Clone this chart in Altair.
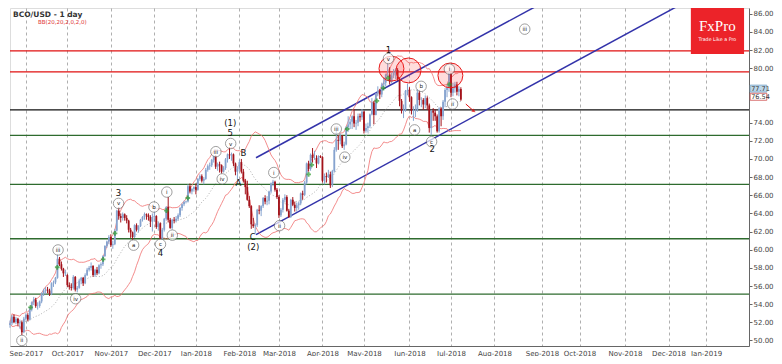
import altair as alt
import pandas as pd

# ---------------- OHLC data (open, high, low, close) per month ----------------
aug17 = [(51.7,52.2,51.4,51.9),(51.9,52.8,51.7,52.6),(52.6,52.9,51.9,52.0),(52.0,52.6,51.8,52.4),
         (52.4,52.5,51.6,51.9),(51.9,52.3,51.3,52.0),(52.0,52.2,50.6,50.9),(50.9,52.6,50.8,52.4)]
sep17 = [(52.4,53.0,52.2,52.8),(52.8,53.0,52.1,52.3),(52.3,53.7,52.2,53.4),(53.4,54.3,53.2,54.2),
         (54.2,54.8,53.9,54.5),(54.5,54.7,53.6,53.8),(53.8,54.2,53.4,53.8),(53.8,54.4,53.6,54.3),
         (54.3,55.3,54.1,55.2),(55.2,55.7,54.9,55.5),(55.5,55.9,55.1,55.6),(55.6,55.9,55.2,55.5),
         (55.5,55.7,54.9,55.1),(55.1,56.4,55.0,56.3),(56.3,56.6,55.9,56.4),(56.4,57.0,56.2,56.9),
         (56.9,59.5,56.8,59.0),(59.0,59.2,58.2,58.4),(58.4,58.7,57.7,57.9),(57.9,58.0,57.0,57.4),
         (57.4,57.8,57.1,57.5)]
oct17 = [(57.2,57.3,55.9,56.1),(56.1,56.4,55.6,55.9),(55.9,56.3,55.5,55.8),(55.8,57.2,55.6,57.0),
         (57.0,57.1,55.4,55.6),(55.6,56.0,55.3,55.8),(55.8,56.8,55.7,56.6),(56.6,57.0,56.2,56.9),
         (56.9,57.0,56.0,56.3),(56.3,57.4,56.2,57.2),(57.2,58.0,57.1,57.8),(57.8,58.2,57.6,58.0),
         (58.0,58.6,57.7,58.2),(58.2,58.3,57.0,57.2),(57.2,57.9,57.0,57.8),(57.8,58.1,57.2,57.4),
         (57.4,58.4,57.3,58.3),(58.3,58.6,57.9,58.4),(58.4,59.4,58.2,59.3),(59.3,60.5,59.2,60.4),
         (60.4,61.0,60.2,60.9),(60.9,61.6,60.6,61.4)]
nov17 = [(61.4,61.7,60.3,60.5),(60.5,61.0,60.1,60.6),(60.6,62.3,60.5,62.1),(62.1,64.4,62.0,64.3),
         (64.3,64.7,63.3,63.7),(63.7,64.0,63.0,63.5),(63.5,64.1,63.2,63.9),(63.9,64.0,63.2,63.5),
         (63.5,63.8,62.9,63.2),(63.2,63.3,61.9,62.2),(62.2,62.4,61.3,61.9),(61.9,62.0,61.1,61.4),
         (61.4,62.8,61.3,62.7),(62.7,62.9,62.0,62.2),(62.2,62.7,61.9,62.6),(62.6,63.4,62.5,63.3),
         (63.3,63.7,63.1,63.6),(63.6,64.1,63.3,63.9),(63.9,64.0,63.3,63.8),(63.8,64.0,63.2,63.6),
         (63.6,63.8,62.5,63.1),(63.1,64.0,62.0,63.6)]
dec17 = [(63.6,64.3,63.1,63.7),(63.7,63.8,62.3,62.5),(62.5,63.1,62.1,62.9),(62.9,63.0,61.1,61.2),
         (61.2,62.4,61.1,62.2),(62.2,63.5,62.0,63.4),(63.4,64.8,63.2,64.7),(64.7,65.8,63.0,63.3),
         (63.3,63.5,62.3,62.4),(62.4,63.4,62.2,63.3),(63.3,63.6,62.9,63.2),(63.2,63.7,63.0,63.4),
         (63.4,64.0,63.2,63.8),(63.8,64.7,63.6,64.6),(64.6,65.1,64.3,65.0),(65.0,65.4,64.8,65.25),
         (65.25,65.4,65.1,65.3),(65.3,67.2,65.2,67.0),(67.0,67.3,66.2,66.4),(66.4,66.8,66.1,66.7),
         (66.7,67.0,66.4,66.9)]
jan18 = [(66.9,67.3,66.1,66.6),(66.6,67.9,66.5,67.8),(67.8,68.3,67.6,68.1),(68.1,68.3,67.4,67.6),
         (67.6,68.0,67.2,67.8),(67.8,69.0,67.7,68.8),(68.8,69.4,68.6,69.2),(69.2,69.6,68.8,69.3),
         (69.3,70.0,69.1,69.9),(69.9,70.4,69.6,70.3),(70.3,70.4,68.9,69.15),(69.15,69.6,68.7,69.4),
         (69.4,69.7,68.5,69.3),(69.3,69.4,68.4,68.6),(68.6,69.2,68.5,69.0),(69.0,70.1,68.8,69.95),
         (69.95,70.6,69.6,70.5),(70.5,71.3,70.0,70.4),(70.4,70.7,69.8,70.5),(70.5,70.6,69.2,69.5),
         (69.5,69.6,68.2,68.6),(68.6,69.2,67.6,68.9)]
feb18 = [(68.9,69.9,68.7,69.65),(69.65,70.0,68.4,68.6),(68.6,68.9,67.4,67.6),(67.6,67.8,66.1,66.9),
         (66.9,67.6,65.4,65.5),(65.5,65.9,64.6,64.8),(64.8,64.9,62.3,62.8),(62.8,63.5,62.4,62.6),
         (62.6,62.9,61.8,62.7),(62.7,64.5,62.5,64.4),(64.4,64.9,63.9,64.3),(64.3,64.9,63.7,64.8),
         (64.8,65.8,64.6,65.7),(65.7,66.0,65.0,65.3),(65.3,65.9,64.9,65.4),(65.4,66.5,65.0,66.4),
         (66.4,67.4,66.2,67.3),(67.3,67.7,67.0,67.5),(67.5,67.6,66.4,66.6),(66.6,66.8,65.6,65.8)]
mar18 = [(65.8,66.0,63.5,63.8),(63.8,64.6,63.6,64.4),(64.4,65.7,64.1,65.5),(65.5,66.1,65.2,65.8),
         (65.8,66.0,64.2,64.3),(64.3,64.5,63.5,63.6),(63.6,65.6,63.5,65.5),(65.5,65.8,64.8,64.95),
         (64.95,65.3,64.2,64.6),(64.6,65.2,64.2,64.9),(64.9,65.3,64.4,65.1),(65.1,66.3,64.9,66.2),
         (66.2,66.5,65.5,66.05),(66.05,67.6,65.9,67.4),(67.4,69.6,67.2,69.5),(69.5,69.8,68.6,68.9),
         (68.9,70.6,68.7,70.45),(70.45,71.2,69.6,70.1),(70.1,70.9,69.9,70.1),(70.1,70.4,69.0,69.5),
         (69.5,70.4,69.4,70.3),(70.3,70.4,70.1,70.2)]
apr18 = [(70.2,70.3,67.4,67.6),(67.6,68.4,67.2,68.1),(68.1,68.5,67.4,68.0),(68.0,68.8,67.9,68.3),
         (68.3,68.6,66.8,67.1),(67.1,68.8,66.9,68.65),(68.65,71.3,68.5,71.0),(71.0,73.1,70.8,72.1),
         (72.1,72.6,71.0,72.0),(72.0,72.8,71.6,72.6),(72.6,72.6,71.2,71.4),(71.4,71.9,71.0,71.6),
         (71.6,73.6,71.5,73.5),(73.5,74.7,73.0,73.8),(73.8,74.4,73.3,74.1),(74.1,74.8,73.3,74.7),
         (74.7,75.5,73.5,73.9),(73.9,74.3,73.2,74.0),(74.0,75.0,73.6,74.7),(74.7,75.0,74.1,74.6),
         (74.6,75.5,74.3,75.2)]
may18 = [(75.2,75.3,72.8,73.1),(73.1,73.9,72.9,73.4),(73.4,74.0,72.9,73.6),(73.6,75.0,73.4,74.9),
         (74.9,76.7,74.8,76.2),(76.2,76.4,73.8,74.85),(74.85,77.3,74.8,77.2),(77.2,78.0,76.9,77.5),
         (77.5,77.7,76.6,77.1),(77.1,78.4,76.8,78.2),(78.2,79.0,77.8,78.4),(78.4,79.4,78.0,79.3),
         (79.3,80.5,79.0,79.3),(79.3,80.1,78.2,78.5),(78.5,79.5,78.3,79.2),(79.2,79.9,78.9,79.6),
         (79.6,80.0,78.8,79.8),(79.8,80.0,78.6,78.8),(78.8,79.0,75.8,76.4),(76.4,76.6,75.0,75.3),
         (75.3,76.0,74.5,75.4),(75.4,77.6,75.2,77.5),(77.5,78.3,77.0,77.6)]
jun18 = [(77.6,77.9,76.3,76.8),(76.8,76.9,74.9,75.3),(75.3,75.8,74.2,75.4),(75.4,76.0,74.6,75.4),
         (75.4,77.7,75.2,77.3),(77.3,77.6,75.9,76.5),(76.5,76.8,75.7,76.5),(76.5,76.7,75.4,76.0),
         (76.0,77.0,75.6,76.7),(76.7,76.9,75.4,75.9),(75.9,76.1,72.9,73.4),(73.4,75.4,72.6,75.3),
         (75.3,75.6,74.2,75.1),(75.1,75.5,74.2,74.7),(74.7,74.9,72.9,73.05),(73.05,75.7,72.9,75.55),
         (75.55,75.7,73.6,74.7),(74.7,76.5,74.3,76.3),(76.3,77.8,75.7,77.6),(77.6,78.2,76.8,77.85),
         (77.85,79.7,77.4,79.4)]
jul18 = [(79.4,79.5,76.8,77.3),(77.3,78.4,76.9,77.8),(77.8,78.5,77.3,78.2),(78.2,78.5,77.0,77.4),
         (77.4,78.0,76.9,77.7),(77.7,77.9,76.4,76.54)]

# ---------------- axis ticks ----------------
month_idx = [8, 29, 51, 73, 94, 116, 136, 158, 179, 202, 223, 245, 269, 288, 311, 333, 352]
month_lab = ["Sep-2017", "Oct-2017", "Nov-2017", "Dec-2017", "Jan-2018", "Feb-2018", "Mar-2018",
             "Apr-2018", "May-2018", "Jun-2018", "Jul-2018", "Aug-2018", "Sep-2018", "Oct-2018",
             "Nov-2018", "Dec-2018", "Jan-2019"]
price_ticks = [50, 52, 54, 56, 58, 60, 62, 64, 66, 68, 70, 72, 74, 80, 82, 84, 86]

# ---------------- annotations ----------------
red_levels = [81.9, 79.6]
black_levels = [75.4]
green_levels = [72.6, 67.2, 61.2, 55.1]

chan_id = ["upper", "upper", "lower", "lower"]
chan_i = [124.4, 400.0, 124.4, 400.0]
chan_p = [70.13, 102.6, 61.66, 94.2]

hl_i = [192.9, 201.5, 222.7]
hl_p = [79.95, 79.75, 79.2]

plus_i = [10.4, 23.9, 47.1, 53.1, 79.1, 89.9, 151.0, 152.6, 170.5, 185.5, 188.8, 191.2, 222.2]
plus_p = [53.65, 58.06, 58.94, 61.8, 64.3, 65.7, 68.3, 69.35, 73.3, 76.4, 77.8, 78.9, 78.2]

circ_txt = ["ii", "iii", "iv", "v", "a", "b", "c", "i", "ii", "iii", "iv", "v", "i", "ii", "iii",
            "iv", "v", "a", "b", "c", "i", "ii", "iii"]
circ_i = [6.0, 24.3, 33.2, 54.9, 62.5, 72.8, 76.1, 79.3, 82.1, 104.1, 107.3, 111.6, 133.4, 136.3,
          165.0, 169.3, 191.4, 204.6, 207.9, 213.2, 222.2, 223.8, 260.3]
circ_p = [50.0, 59.97, 54.6, 65.1, 60.5, 64.7, 60.6, 66.35, 61.6, 70.8, 67.8, 71.7, 68.5, 62.65,
          73.3, 70.2, 81.06, 73.2, 78.0, 71.9, 79.9, 76.05, 84.3]

wave_txt = ["3", "4", "(1)", "5", "A", "B", "C", "(2)", "1", "2"]
wave_i = [54.9, 76.1, 111.4, 111.4, 115.5, 118.0, 122.8, 123.0, 191.4, 213.5]
wave_p = [66.25, 59.65, 74.0, 72.85, 67.4, 70.6, 61.45, 60.35, 82.0, 71.05]

arrow_i = [230.5, 234.4]
arrow_p = [76.05, 75.3]

box_txt = ["77.71", "76.54"]
box_p = [77.75, 76.85]

# ---------------- build frames ----------------
rows = []
k = 0
for month in [aug17, sep17, oct17, nov17, dec17, jan18, feb18, mar18, apr18, may18, jun18, jul18]:
    for o, h, l, c in month:
        rows.append({"i": k, "o": o, "h": h, "l": l, "c": c, "dir": "up" if c >= o else "down"})
        k += 1
bars = pd.DataFrame(rows)

XMAX = 373.7
X = alt.Scale(domain=[0, XMAX], nice=False, zero=False)
Y = alt.Scale(domain=[49.39, 86.63], nice=False, zero=False)

lab_expr = "[" + ",".join("'%s'" % s for s in month_lab) + "][indexof([" + \
    ",".join(str(v) for v in month_idx) + "], datum.value)]"

xaxis = alt.Axis(values=month_idx, labelExpr=lab_expr, grid=True, gridDash=[3, 3],
                 gridColor="#9a9a9a", gridWidth=0.8, tickSize=0, labelFontSize=7,
                 labelColor="#444", labelFont="DejaVu Sans", domainColor="#666",
                 labelPadding=3, title=None, zindex=0, labelFlush=False)
yaxis = alt.Axis(orient="right", values=price_ticks, format=".2f", grid=False, tickSize=3,
                 tickColor="#666", domainColor="#666", labelFontSize=7, labelColor="#444",
                 labelFont="DejaVu Sans", labelPadding=1, title=None, zindex=0)


def xe(f):
    return alt.X(f, type="quantitative", scale=X, axis=xaxis)


def ye(f):
    return alt.Y(f, type="quantitative", scale=Y, axis=yaxis)


def lv(vals, color, w):
    return alt.Chart(pd.DataFrame({"v": vals})).mark_rule(color=color, strokeWidth=w).encode(y=ye("v"))


levels = lv(red_levels, "#e01010", 1.2) + lv(black_levels, "#111111", 1.2) + lv(green_levels, "#2e6b2e", 1.4)

channels = alt.Chart(pd.DataFrame({"g": chan_id, "i": chan_i, "p": chan_p})).mark_line(
    color="#3333aa", strokeWidth=1.5, clip=True).encode(x=xe("i"), y=ye("p"), detail="g:N")

bb_base = alt.Chart(bars).transform_window(
    ma="mean(c)", sd="stdevp(c)", frame=[-19, 0], sort=[alt.SortField("i")]
).transform_calculate(bu="datum.ma + 2*datum.sd", bl="datum.ma - 2*datum.sd")
bb = (bb_base.mark_line(color="#f07070", strokeWidth=0.8).encode(x=xe("i"), y=ye("bu:Q"))
      + bb_base.mark_line(color="#f07070", strokeWidth=0.8).encode(x=xe("i"), y=ye("bl:Q"))
      + bb_base.mark_line(color="#9a9a9a", strokeWidth=0.8, strokeDash=[1, 2]).encode(x=xe("i"), y=ye("ma:Q")))

cscale = alt.Scale(domain=["up", "down"], range=["#86a3cf", "#a3121a"])
wicks = alt.Chart(bars).mark_rule(strokeWidth=1).encode(
    x=xe("i"), y=ye("l"), y2="h", color=alt.Color("dir:N", scale=cscale, legend=None))
bodies = alt.Chart(bars).mark_rule(strokeWidth=1.8).encode(
    x=xe("i"), y=ye("o"), y2="c", color=alt.Color("dir:N", scale=cscale, legend=None))

highlight = alt.Chart(pd.DataFrame({"i": hl_i, "p": hl_p})).mark_point(
    shape="circle", size=620, filled=True, fill="#ff3b3b", fillOpacity=0.18, stroke="#e81a1a",
    strokeWidth=1, strokeOpacity=1).encode(x=xe("i"), y=ye("p"))

plus = alt.Chart(pd.DataFrame({"i": plus_i, "p": plus_p})).mark_point(
    shape="cross", size=22, filled=True, color="#2a9a2a").encode(x=xe("i"), y=ye("p"))

cdf = pd.DataFrame({"t": circ_txt, "i": circ_i, "p": circ_p})
circ = alt.Chart(cdf).mark_point(shape="circle", size=110, filled=True, fill="white",
                                 stroke="#555", strokeWidth=0.8).encode(x=xe("i"), y=ye("p"))
circ_t = alt.Chart(cdf).mark_text(fontSize=5.5, font="DejaVu Sans", color="#222").encode(
    x=xe("i"), y=ye("p"), text="t:N")

waves = alt.Chart(pd.DataFrame({"t": wave_txt, "i": wave_i, "p": wave_p})).mark_text(
    fontSize=8.5, font="DejaVu Sans", color="#111").encode(x=xe("i"), y=ye("p"), text="t:N")

adf = pd.DataFrame({"i": arrow_i, "p": arrow_p})
arrow = (alt.Chart(adf).mark_line(color="#e01010", strokeWidth=1).encode(x=xe("i"), y=ye("p"))
         + alt.Chart(adf.tail(1)).mark_point(shape="triangle", angle=125, size=18, filled=True,
                                             color="#e01010").encode(x=xe("i"), y=ye("p")))

# price boxes just right of the plot
bdf = pd.DataFrame({"t": box_txt, "p": box_p, "x0": [XMAX + 0.6] * 2, "x1": [XMAX + 9.0] * 2,
                    "f": ["#bcd7ea", "#ffffff"], "s": ["#7aa6c8", "#d05050"]})
boxes = alt.Chart(bdf).mark_rect(height=7, strokeWidth=0.8, clip=False).encode(
    x=xe("x0"), x2="x1", y=ye("p"),
    fill=alt.Fill("f:N", scale=None), stroke=alt.Stroke("s:N", scale=None))
box_t = alt.Chart(bdf).mark_text(fontSize=6.5, font="DejaVu Sans", color="#333", align="left",
                                 dx=1, clip=False).encode(x=xe("x0"), y=ye("p"), text="t:N")

# logo
logo = alt.Chart(pd.DataFrame({"a": [344.3], "b": [371.2], "c": [86.63], "d": [81.55]})).mark_rect(
    color="#ec2329").encode(x=xe("a"), x2="b", y=ye("c"), y2="d")
logo_t1 = alt.Chart(pd.DataFrame({"t": ["FxPro"], "i": [357.7], "p": [84.6]})).mark_text(
    font="Liberation Serif", fontSize=15, color="white").encode(x=xe("i"), y=ye("p"), text="t:N")
logo_t2 = alt.Chart(pd.DataFrame({"t": ["Trade Like a Pro"], "i": [357.7], "p": [83.15]})).mark_text(
    font="DejaVu Sans", fontSize=4.8, color="white").encode(x=xe("i"), y=ye("p"), text="t:N")

title = alt.Chart(pd.DataFrame({"t": ["BCO/USD - 1 day"]})).mark_text(
    align="left", baseline="top", fontSize=7.5, fontWeight="bold", font="DejaVu Sans",
    color="#333").encode(x=alt.value(3), y=alt.value(3), text="t:N")
bbt = alt.Chart(pd.DataFrame({"t": ["BB(20,20,2,0,2,0)"]})).mark_text(
    align="left", baseline="top", fontSize=5.5, font="DejaVu Sans",
    color="#e03030").encode(x=alt.value(28), y=alt.value(12), text="t:N")

chart = alt.layer(
    levels, channels, bb, wicks, bodies, highlight, plus, circ, circ_t, waves, arrow,
    boxes, box_t, logo, logo_t1, logo_t2, title, bbt
).properties(
    width=766, height=348, padding=0,
    autosize=alt.AutoSizeParams(type="fit", contains="padding")
).configure_view(stroke="#555", strokeWidth=1).configure(background="white")

chart.save("out.html", embed_options={"renderer": "svg", "actions": False})
